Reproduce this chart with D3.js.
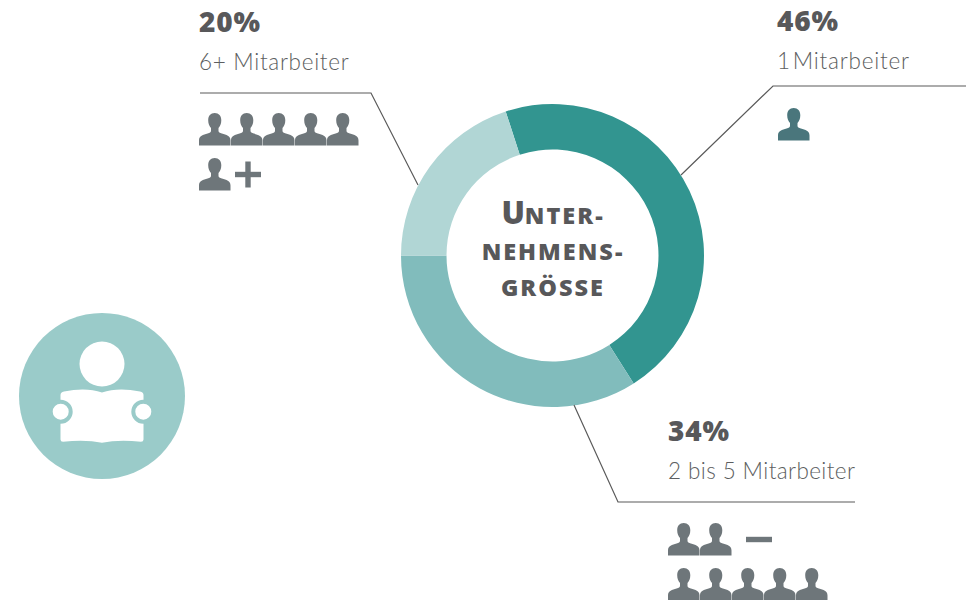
<!DOCTYPE html>
<html>
<head>
<meta charset="utf-8">
<script src="https://cdn.jsdelivr.net/npm/d3@7"></script>
<style>
  html, body { margin: 0; padding: 0; background: #fff; }
  svg { display: block; }
</style>
</head>
<body>
<div id="chart"></div>
<script>
const categories = ["1 Mitarbeiter", "2 bis 5 Mitarbeiter", "6+ Mitarbeiter"];
const shares = [46, 34, 20];
const sliceColors = ["#329590", "#81bcbc", "#b1d6d5"];
const titleLines = [["U", "nter-"], ["", "nehmens-"], ["", "grösse"]];

const width = 966, height = 600;
const cx = 552.5, cy = 255.5;
const textColor = "#58585a";
const iconColor = "#6e767a";
const heavyFont = "'Open Sans', sans-serif";

const svg = d3.select("#chart").append("svg")
    .attr("width", width)
    .attr("height", height)
    .style("font-family", "Lato, 'Open Sans', sans-serif");

// Donut
const pie = d3.pie().sort(null)
    .startAngle(-18 * Math.PI / 180)
    .endAngle(342 * Math.PI / 180);
const arc = d3.arc().innerRadius(106).outerRadius(151.5);

svg.append("g").attr("transform", `translate(${cx},${cy})`)
   .selectAll("path")
   .data(pie(shares)).join("path")
   .attr("fill", (d, i) => sliceColors[i])
   .attr("d", arc);

// Titel in der Mitte
const title = svg.append("text")
    .attr("text-anchor", "middle")
    .attr("fill", textColor)
    .style("font-family", heavyFont)
    .style("font-weight", 800);
titleLines.forEach((l, i) => {
    const line = title.append("tspan").attr("x", cx + 0.5).attr("y", 224 + i * 36);
    if (l[0]) line.append("tspan").style("font-size", "31px").text(l[0]);
    line.append("tspan").style("font-size", "23.5px").style("letter-spacing", "2px")
        .text(l[1].toUpperCase());
});

// Beschriftungen: x, Leader, Icon-Reihen
const labels = [
    {i: 0, x: 777, iconX: 778, leader: [[681, 175], [773, 86], [966, 86]], rows: [[1, null]], y: 108, icon: "#4a767c", wordGap: -5, track: 0.8},
    {i: 1, x: 668, iconX: 668, leader: [[574, 405], [618, 502], [855, 502]], rows: [[2, "-"], [5, null]], y: 523, icon: iconColor, wordGap: 0, track: 0.4},
    {i: 2, x: 199, iconX: 199, leader: [[418, 185], [371, 93], [200, 93]], rows: [[5, null], [1, "+"]], y: 113, icon: iconColor, wordGap: 0, track: 0.7}
];
const titleY = {0: 31, 1: 441, 2: 32};
const nameY = {0: 69, 1: 479, 2: 70};

const person = "M15.7 0C11.6 0 9.2 3 9.2 7.2C9.2 10.6 10.4 13.3 12 15L12 18C12 19.2 10.8 19.9 8.6 20.6C4.2 22 0 23 0 27.5L0 32.5L31.5 32.5L31.5 27.5C31.5 23 27.3 22 22.9 20.6C20.7 19.9 19.5 19.2 19.5 18L19.5 15C21.1 13.3 22.3 10.6 22.3 7.2C22.3 3 19.8 0 15.7 0Z";

labels.forEach(l => {
    svg.append("path")
       .attr("d", d3.line()(l.leader))
       .attr("fill", "none").attr("stroke", "#5a5a5a").attr("stroke-width", 1.2);

    svg.append("text").attr("x", l.x).attr("y", titleY[l.i])
       .attr("fill", textColor)
       .style("font-family", heavyFont)
       .style("font-size", "28px").style("font-weight", 800).style("letter-spacing", "0.9px")
       .text(shares[l.i] + "%");

    svg.append("text").attr("x", l.x).attr("y", nameY[l.i])
       .attr("fill", "#5c5e60")
       .style("font-size", "22.5px").style("font-weight", 300)
       .style("letter-spacing", l.track + "px").style("word-spacing", l.wordGap + "px")
       .text(categories[l.i]);

    l.rows.forEach((row, r) => {
        const rowY = l.y + r * 45;
        d3.range(row[0]).forEach(k => {
            svg.append("path").attr("d", person)
               .attr("transform", `translate(${l.iconX + k * 32},${rowY})`)
               .attr("fill", l.icon);
        });
        if (row[1]) {
            const sx = l.iconX + row[0] * 32 + (row[1] === "+" ? 4 : 14);
            const sw = 26, my = rowY + 16.5;
            svg.append("rect").attr("x", sx).attr("y", my - 2.7).attr("width", sw).attr("height", 5.4).attr("fill", l.icon);
            if (row[1] === "+") {
                svg.append("rect").attr("x", sx + sw / 2 - 2.7).attr("y", my - 13).attr("width", 5.4).attr("height", 26).attr("fill", l.icon);
            }
        }
    });
});

// Leser-Symbol links
const badge = svg.append("g").attr("transform", "translate(102,396)");
badge.append("circle").attr("r", 83).attr("fill", "#9acbc9");
badge.append("circle").attr("cy", -32).attr("r", 22.5).attr("fill", "#fff");
badge.append("path").attr("fill", "#fff")
     .attr("d", "M-41.5 -1Q-41.5 -4 -38 -4.5Q-16 -9 0 -3.5Q16 -9 38 -4.5Q41.5 -4 41.5 -1L41.5 43.5Q41.5 45.7 39 45.7Q16 43.5 0 46.7Q-16 43.5 -39 45.7Q-41.5 45.7 -41.5 43.5Z");
[-1, 1].forEach(s => {
    badge.append("circle").attr("cx", s * 41.3).attr("cy", 15.7).attr("r", 10).attr("fill", "#fff")
         .attr("stroke", "#9acbc9").attr("stroke-width", 4);
});
</script>
</body>
</html>
